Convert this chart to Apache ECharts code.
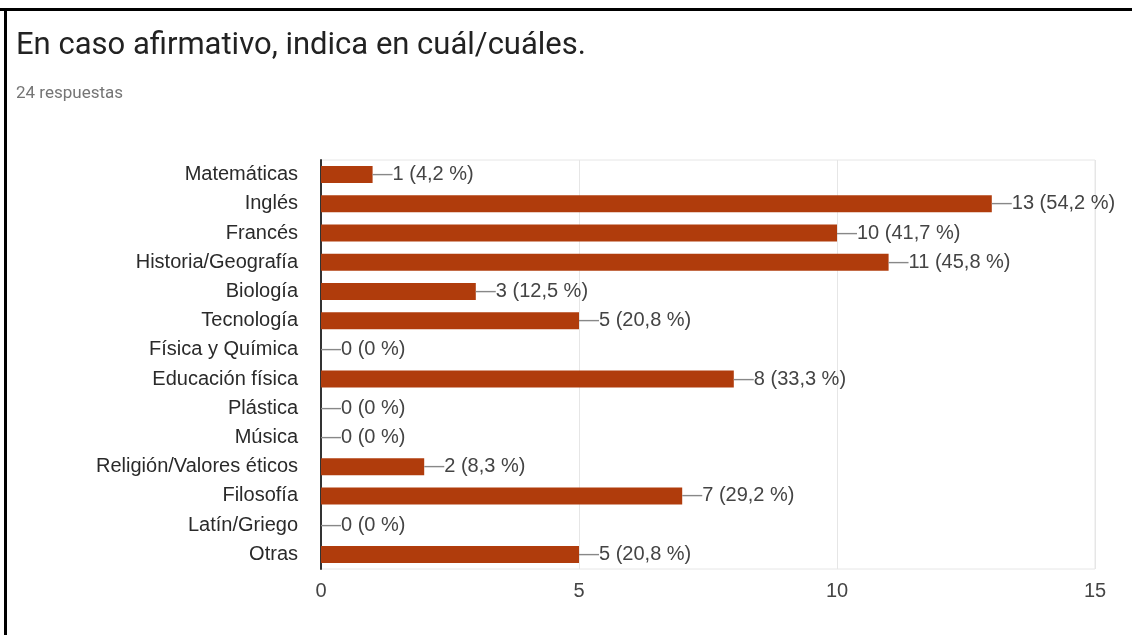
<!DOCTYPE html>
<html>
<head>
<meta charset="utf-8">
<title>En caso afirmativo, indica en cuál/cuáles.</title>
<script src="https://cdn.jsdelivr.net/npm/echarts@6/dist/echarts.min.js"></script>
<style>
  html, body { margin: 0; padding: 0; background: #ffffff; }
  #chart { width: 1132px; height: 635px; }
</style>
</head>
<body>
<div id="chart"></div>
<script>
// Asignaturas (eje vertical, de arriba abajo)
const subjects = [
  'Matemáticas', 'Inglés', 'Francés', 'Historia/Geografía', 'Biología',
  'Tecnología', 'Física y Química', 'Educación física', 'Plástica', 'Música',
  'Religión/Valores éticos', 'Filosofía', 'Latín/Griego', 'Otras'
];
// Número de respuestas por asignatura
const counts = [1, 13, 10, 11, 3, 5, 0, 8, 0, 0, 2, 7, 0, 5];
// Porcentaje sobre el total de respuestas
const percents = ['4,2', '54,2', '41,7', '45,8', '12,5', '20,8', '0', '33,3', '0', '0', '8,3', '29,2', '0', '20,8'];
// Marcas del eje horizontal
const xTicks = [0, 5, 10, 15];

const chart = echarts.init(document.getElementById('chart'), null, { renderer: 'canvas' });

const option = {
  backgroundColor: '#ffffff',
  animation: false,
  title: [
    {
      text: 'En caso afirmativo, indica en cuál/cuáles.',
      left: 11,
      top: 26,
      textStyle: { fontFamily: 'Roboto', fontSize: 31, fontWeight: 'normal', color: '#222222' }
    },
    {
      text: '24 respuestas',
      left: 11,
      top: 80,
      textStyle: { fontFamily: 'Roboto', fontSize: 17, fontWeight: 'normal', color: '#757575' }
    }
  ],
  graphic: [
    // marco superior e izquierdo
    { type: 'rect', left: 0, top: 8, shape: { width: 1132, height: 3 }, style: { fill: '#000000' }, silent: true },
    { type: 'rect', left: 4, top: 8, shape: { width: 3, height: 627 }, style: { fill: '#000000' }, silent: true }
  ],
  grid: {
    left: 321, right: 37, top: 160, bottom: 66,
    show: true, borderColor: '#e6e6e6', borderWidth: 1, backgroundColor: 'transparent'
  },
  xAxis: {
    type: 'value',
    min: xTicks[0],
    max: xTicks[xTicks.length - 1],
    interval: xTicks[1] - xTicks[0],
    axisLine: { show: false },
    axisTick: { show: false },
    splitLine: { show: true, lineStyle: { color: '#e6e6e6', width: 1 } },
    axisLabel: {
      margin: 12,
      fontFamily: 'Liberation Sans',
      fontSize: 20,
      color: '#444444'
    }
  },
  yAxis: {
    type: 'category',
    data: subjects,
    inverse: true,
    axisLine: { show: true, lineStyle: { color: '#333333', width: 2 } },
    axisTick: { show: false },
    splitLine: { show: false },
    axisLabel: {
      margin: 23,
      fontFamily: 'Liberation Sans',
      fontSize: 20,
      color: '#2a2a2a'
    }
  },
  series: [
    {
      type: 'bar',
      data: counts,
      barWidth: 17,
      itemStyle: { color: '#b03c0c' },
      label: {
        show: true,
        position: 'right',
        distance: 0,
        fontFamily: 'Liberation Sans',
        fontSize: 20,
        color: '#444444',
        formatter: function (p) {
          return '{d|—}' + p.value + ' (' + percents[p.dataIndex] + ' %)';
        },
        rich: {
          d: { fontFamily: 'Liberation Sans', fontSize: 20, color: '#888888' }
        }
      }
    }
  ]
};

chart.setOption(option);
</script>
</body>
</html>
